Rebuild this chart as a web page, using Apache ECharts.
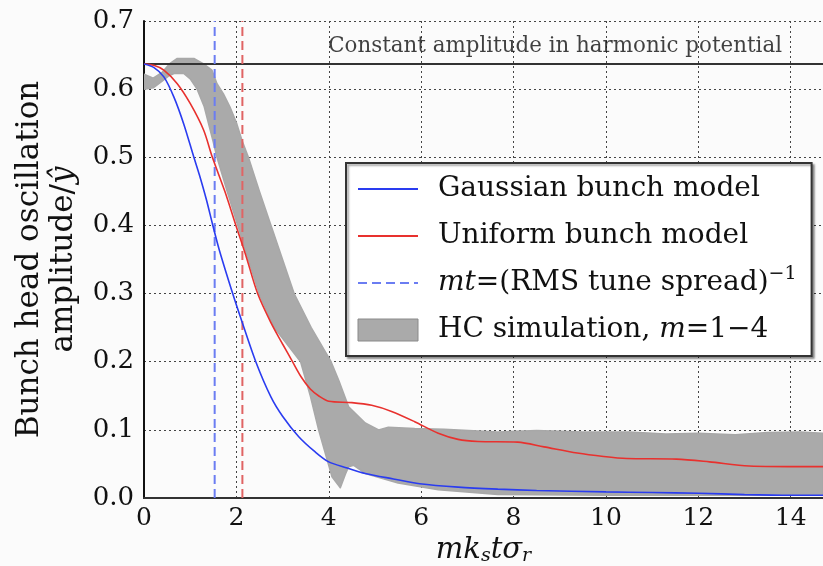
<!DOCTYPE html>
<html><head><meta charset="utf-8">
<script src="https://cdn.jsdelivr.net/npm/echarts@6/dist/echarts.min.js"></script>
<style>html,body{margin:0;padding:0;background:#fbfbfb}#c{width:823px;height:566px}</style>
</head><body><div id="c"></div>
<script>
// ---- data ----
const xTicks = [0, 2, 4, 6, 8, 10, 12, 14];
const yTicks = [0.0, 0.1, 0.2, 0.3, 0.4, 0.5, 0.6, 0.7];

const gaussX = [0, 0.21, 0.43, 0.65, 0.86, 1.08, 1.2, 1.35, 1.49, 1.63, 1.92, 2.1, 2.42, 2.75, 3.0, 3.35, 3.7, 4.0, 4.4, 4.79, 5.4, 5.97, 6.8, 7.66, 8.5, 10, 11, 12, 13, 14, 14.7];
const gaussY = [0.637, 0.632, 0.618, 0.588, 0.549, 0.500, 0.474, 0.438, 0.400, 0.364, 0.300, 0.263, 0.200, 0.148, 0.120, 0.090, 0.068, 0.053, 0.044, 0.036, 0.028, 0.021, 0.016, 0.013, 0.011, 0.009, 0.008, 0.007, 0.005, 0.004, 0.004];

const unifX = [0, 0.21, 0.43, 0.72, 1.0, 1.29, 1.48, 1.75, 1.99, 2.2, 2.46, 2.75, 3.0, 3.2, 3.4, 3.6, 3.8, 4.0, 4.5, 4.93, 5.36, 5.86, 6.37, 6.8, 7.23, 8.09, 8.66, 9.38, 9.95, 10.45, 11.53, 12.24, 13.1, 14.39, 14.7];
const unifY = [0.637, 0.635, 0.628, 0.608, 0.579, 0.540, 0.500, 0.450, 0.400, 0.357, 0.300, 0.257, 0.226, 0.202, 0.178, 0.160, 0.149, 0.142, 0.140, 0.136, 0.127, 0.112, 0.095, 0.086, 0.083, 0.082, 0.075, 0.066, 0.061, 0.058, 0.057, 0.053, 0.047, 0.046, 0.046];

const bandUpperX = [0, 0.2, 0.4, 0.55, 0.72, 1.08, 1.29, 1.47, 1.58, 1.72, 1.86, 2.01, 2.12, 2.26, 2.5, 2.75, 3.0, 3.25, 3.62, 4.05, 4.22, 4.43, 4.79, 5.08, 5.29, 5.86, 6.5, 7.66, 8.5, 9.5, 10.5, 11.3, 12, 12.8, 13.5, 14.2, 14.7];
const bandUpperY = [0.622, 0.616, 0.625, 0.637, 0.645, 0.645, 0.637, 0.628, 0.608, 0.593, 0.574, 0.549, 0.525, 0.500, 0.450, 0.400, 0.350, 0.300, 0.250, 0.200, 0.172, 0.134, 0.110, 0.100, 0.104, 0.102, 0.101, 0.097, 0.099, 0.097, 0.097, 0.094, 0.095, 0.093, 0.096, 0.097, 0.095];
const bandLowerX = [0, 0.2, 0.4, 0.55, 0.65, 0.86, 1.0, 1.15, 1.3, 1.49, 1.58, 1.8, 2.03, 2.26, 2.49, 2.82, 3.39, 3.6, 3.78, 4.07, 4.25, 4.36, 4.43, 4.54, 4.79, 5.5, 6.37, 7.66, 10, 14.7];
const bandLowerY = [0.600, 0.602, 0.612, 0.620, 0.623, 0.623, 0.615, 0.600, 0.575, 0.525, 0.500, 0.450, 0.400, 0.350, 0.300, 0.250, 0.200, 0.150, 0.100, 0.031, 0.015, 0.035, 0.046, 0.048, 0.036, 0.022, 0.012, 0.005, 0.004, 0.004];

const constAmp = 0.637;            // 2/pi
const tuneSpreadBlueX = 1.53;
const tuneSpreadRedX = 2.13;
const xMin = 0, xMax = 14.7, yMin = 0, yMax = 0.7;
const annotationText = 'Constant amplitude in harmonic potential';
const annotationAt = [8.9, 0.662];

const legendNames = ['Gaussian bunch model', 'Uniform bunch model', 'mt', 'HC simulation'];

// ---- build ----
const zip = (xs, ys) => xs.map((x, i) => [x, ys[i]]);
const SERIF = 'DejaVu Serif';
const chart = echarts.init(document.getElementById('c'), null, {renderer: 'canvas'});
const hidden = {opacity: 0};

const option = {
  backgroundColor: '#fbfbfb',
  animation: false,
  grid: {left: 144, right: 0, top: 21, bottom: 68, containLabel: false, outerBoundsMode: 'none'},
  xAxis: [{
    type: 'value', min: xMin, max: xMax, interval: 2,
    axisLine: {show: true, onZero: false, lineStyle: {color: '#111', width: 2}},
    axisTick: {show: false},
    axisLabel: {
      margin: 8, color: '#111', fontFamily: SERIF, fontSize: 25, showMaxLabel: false,
      formatter: v => (xTicks.indexOf(v) >= 0 ? String(v) : '')
    },
    splitLine: {show: true, lineStyle: {color: '#444', type: [2, 3], width: 1}},
    name: '{i|mk}{sub|s}{i|tσ}{sub|r}',
    nameLocation: 'middle', nameGap: 36,
    nameTextStyle: {
      rich: {
        i: {fontFamily: SERIF, fontStyle: 'italic', fontSize: 29, color: '#111'},
        sub: {fontFamily: SERIF, fontStyle: 'italic', fontSize: 19, color: '#111', verticalAlign: 'bottom', padding: [12, 0, 0, 0]}
      }
    }
  }, {
    type: 'value', position: 'top', min: xMin, max: xMax, interval: 2,
    axisLine: {show: true, lineStyle: {color: '#333', width: 2}},
    axisTick: {show: false}, axisLabel: {show: false}, splitLine: {show: false}
  }],
  yAxis: {
    type: 'value', min: yMin, max: yMax, interval: 0.1,
    axisLine: {show: true, onZero: false, lineStyle: {color: '#111', width: 2}},
    axisTick: {show: false},
    axisLabel: {margin: 10, color: '#111', fontFamily: SERIF, fontSize: 26, formatter: v => v.toFixed(1)},
    splitLine: {show: true, lineStyle: {color: '#444', type: [2, 3], width: 1}},
    name: '{a|Bunch head oscillation}\n{a|amplitude/}{i|ŷ}',
    nameLocation: 'middle', nameRotate: 90, nameGap: 63,
    nameTextStyle: {
      rich: {
        a: {fontFamily: SERIF, fontSize: 31, color: '#111', lineHeight: 34},
        i: {fontFamily: SERIF, fontStyle: 'italic', fontSize: 31, color: '#111', lineHeight: 34}
      }
    }
  },
  legend: {
    show: true, orient: 'vertical', left: 346, top: 163,
    selectedMode: false,
    data: [
      {name: legendNames[0], itemStyle: hidden},
      {name: legendNames[1], itemStyle: hidden},
      {name: legendNames[2], itemStyle: hidden},
      {name: legendNames[3], icon: 'rect', itemStyle: {color: '#aaaaaa', borderColor: '#8a8a8a', borderWidth: 1}}
    ],
    itemWidth: 60, itemHeight: 22, itemGap: 11,
    padding: [8, 15, 8, 11],
    backgroundColor: '#ffffff',
    borderColor: '#333', borderWidth: 2,
    shadowColor: 'rgba(0,0,0,0.35)', shadowOffsetX: 2, shadowOffsetY: 2, shadowBlur: 2,
    textStyle: {
      fontFamily: SERIF, fontSize: 28, color: '#111', padding: [0, 0, 0, 15], lineHeight: 36,
      rich: {
        t: {fontFamily: SERIF, fontSize: 28, color: '#111', lineHeight: 36},
        i: {fontFamily: SERIF, fontStyle: 'italic', fontSize: 28, color: '#111', lineHeight: 36},
        sup: {fontFamily: SERIF, fontSize: 19, color: '#111', verticalAlign: 'top', lineHeight: 36, padding: [0, 0, 12, 0]}
      }
    },
    formatter: function (name) {
      if (name === 'mt') return '{i|mt}{t|=(RMS tune spread)}{sup|−1}';
      if (name === 'HC simulation') return '{t|HC simulation, }{i|m}{t|=1−4}';
      return '{t|' + name + '}';
    }
  },
  series: [
    {
      name: legendNames[3], type: 'custom', z: 1, clip: true,
      itemStyle: {color: '#aaaaaa'},
      data: [[bandUpperX[0], bandUpperY[0]]],
      renderItem: function (params, api) {
        const pts = [];
        for (let i = 0; i < bandUpperX.length; i++) pts.push(api.coord([bandUpperX[i], bandUpperY[i]]));
        for (let i = bandLowerX.length - 1; i >= 0; i--) pts.push(api.coord([bandLowerX[i], bandLowerY[i]]));
        return {type: 'polygon', shape: {points: pts}, style: {fill: '#aaaaaa', stroke: '#a8a8a8', lineWidth: 1.5, lineJoin: 'round'}};
      }
    },
    {
      name: 'constant', type: 'line', z: 3, symbol: 'none', silent: true,
      data: [[xMin, constAmp], [xMax, constAmp]],
      lineStyle: {color: '#333', width: 2}
    },
    {
      name: 'annotation', type: 'scatter', z: 4, symbolSize: 0, silent: true,
      data: [annotationAt],
      label: {show: true, position: 'inside', formatter: annotationText, fontFamily: SERIF, fontSize: 21.4, color: '#111'}
    },
    {
      name: legendNames[2], type: 'line', z: 5, symbol: 'none',
      data: [[tuneSpreadBlueX, yMin], [tuneSpreadBlueX, yMax]],
      lineStyle: {color: '#6b7df2', width: 2, type: [9, 5]}, itemStyle: {color: '#6b7df2'}
    },
    {
      name: 'mt red', type: 'line', z: 5, symbol: 'none',
      data: [[tuneSpreadRedX, yMin], [tuneSpreadRedX, yMax]],
      lineStyle: {color: '#e06464', width: 2, type: [9, 5]}
    },
    {
      name: legendNames[1], type: 'line', z: 6, symbol: 'none', smooth: 0.3,
      data: zip(unifX, unifY),
      lineStyle: {color: '#e8312e', width: 1.6}, itemStyle: {color: '#e8312e'}
    },
    {
      name: legendNames[0], type: 'line', z: 6, symbol: 'none', smooth: 0.3,
      data: zip(gaussX, gaussY),
      lineStyle: {color: '#2a3cf0', width: 1.6}, itemStyle: {color: '#2a3cf0'}
    }
  ]
};
chart.setOption(option);
</script>
</body></html>
